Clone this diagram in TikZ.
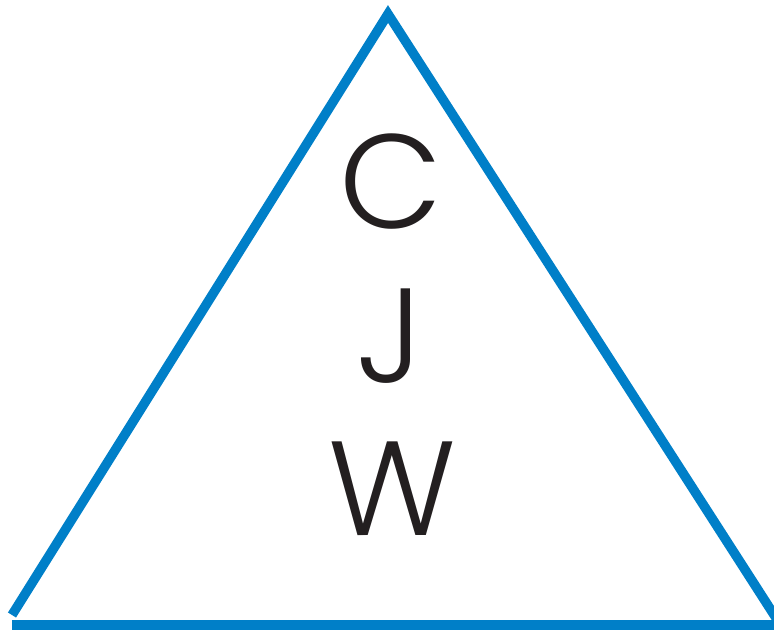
\documentclass[tikz,border=0pt]{standalone}
\usepackage{fontspec}
\setmainfont{Poppins}[UprightFont=* Light]
\definecolor{triblue}{RGB}{0,127,200}
\definecolor{letterc}{RGB}{35,31,32}
\begin{document}
\begin{tikzpicture}[x=1pt,y=-1pt,
  side/.style={draw=triblue,line width=9.5pt,line cap=butt},
  letter/.style={anchor=base,inner sep=0pt,text=letterc,font=\fontsize{134}{150}\selectfont}]
\useasboundingbox (0,0) rectangle (774,632);
\coordinate (apex) at (388,14);
\coordinate (bl) at (12,615);
\coordinate (br) at (778,621);
\coordinate (b1) at (12,625);
\coordinate (b2) at (774,625);
\draw[side] (bl) -- (apex) -- (br);
\draw[side,line width=10pt] (b1) -- (b2);
\node[letter] (c) at (391,228) {C};
\node[letter] (j) at (390,382) {J};
\node[letter] (w) at (392,535) {W};
\end{tikzpicture}
\end{document}
